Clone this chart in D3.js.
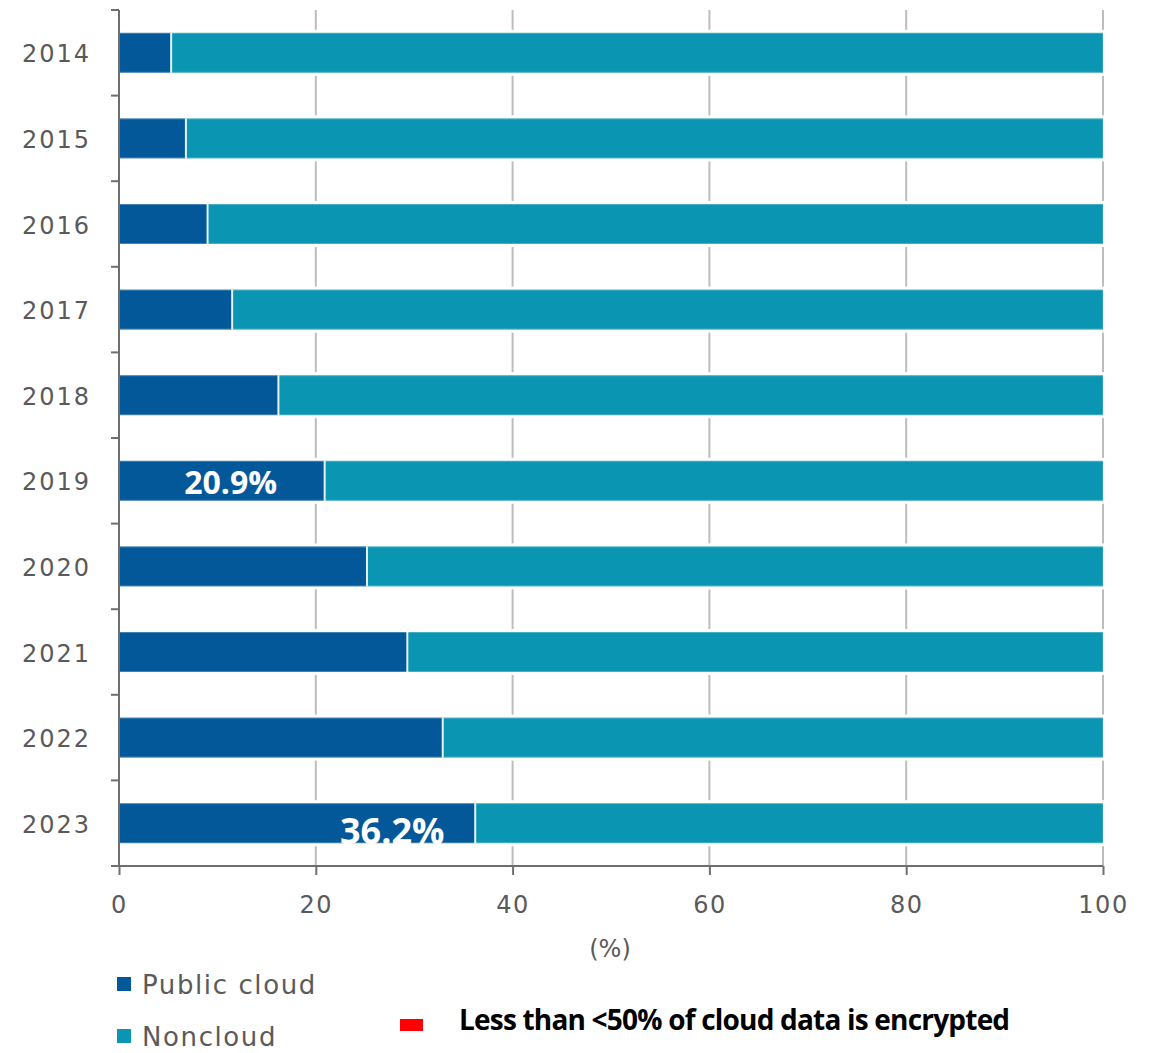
<!DOCTYPE html>
<html><head><meta charset="utf-8">
<script src="https://cdn.jsdelivr.net/npm/d3@7"></script>
<style>body{margin:0;background:#fff}</style>
</head><body>
<script>
const years = ["2014","2015","2016","2017","2018","2019","2020","2021","2022","2023"];
const publicCloud = [5.3, 6.8, 9.0, 11.5, 16.2, 20.9, 25.2, 29.3, 32.9, 36.2];
const noncloud = publicCloud.map(v => 100 - v);
const xTicks = [0, 20, 40, 60, 80, 100];
const seriesNames = ["Public cloud", "Noncloud"];
const colors = ["#03589a", "#0a95b3"];
const callouts = [{year:"2019", text:"20.9%"}, {year:"2023", text:"36.2%"}];
const note = "Less than <50% of cloud data is encrypted";

const W = 1156, H = 1053;
const svg = d3.select("body").append("svg").attr("width", W).attr("height", H);
const x = d3.scaleLinear().domain([0,100]).range([119,1103]);
const y = d3.scaleBand().domain(years).range([10,866]).paddingInner(0.533).paddingOuter(0.2665);
const step = y.step();
const axisCol = "#6e6e6e";
const txtCol = "#5a5a5a";

// gridlines
svg.append("g").selectAll("line").data(xTicks.filter(d=>d>0)).join("line")
  .attr("x1", d=>x(d)).attr("x2", d=>x(d)).attr("y1", 10).attr("y2", 866)
  .attr("stroke", "#bdbdbd").attr("stroke-width", 2);

// white halos behind bars
svg.append("g").selectAll("rect").data(years).join("rect")
  .attr("x", x(0)+1).attr("width", x(100)-x(0)+3)
  .attr("y", d=>y(d)-3).attr("height", y.bandwidth()+6).attr("fill", "#fff");

const gBars = svg.append("g");
years.forEach((yr,i)=>{
  gBars.append("rect").attr("x", x(0)).attr("width", x(publicCloud[i])-x(0))
    .attr("y", y(yr)).attr("height", y.bandwidth()).attr("fill", colors[0]);
  gBars.append("rect").attr("x", x(publicCloud[i])).attr("width", x(100)-x(publicCloud[i]))
    .attr("y", y(yr)).attr("height", y.bandwidth()).attr("fill", colors[1]);
  gBars.append("line").attr("x1", x(publicCloud[i])).attr("x2", x(publicCloud[i]))
    .attr("y1", y(yr)).attr("y2", y(yr)+y.bandwidth()).attr("stroke", "#e6f2f6").attr("stroke-width", 2);
  gBars.append("rect").attr("x", x(0)).attr("width", x(100)-x(0))
    .attr("y", y(yr)+0.5).attr("height", y.bandwidth()-1).attr("fill", "none")
    .attr("stroke", "rgba(255,255,255,0.25)").attr("stroke-width", 1);
});

// y axis
svg.append("line").attr("x1", 119).attr("x2", 119).attr("y1", 10).attr("y2", 866)
  .attr("stroke", axisCol).attr("stroke-width", 2);
svg.append("g").selectAll("line").data(d3.range(years.length)).join("line")
  .attr("x1", 111).attr("x2", 119).attr("y1", i=>10+i*step).attr("y2", i=>10+i*step)
  .attr("stroke", axisCol).attr("stroke-width", 2);
svg.append("g").selectAll("text").data(years).join("text")
  .attr("x", 91).attr("y", d=>y(d)+y.bandwidth()/2+9.5).attr("text-anchor","end")
  .attr("font-family","DejaVu Sans").attr("font-size",24).attr("letter-spacing",2)
  .attr("fill",txtCol).text(d=>d);

// x axis
const xAxis = d3.axisBottom(x).tickValues(xTicks).tickSize(9).tickPadding(21).tickSizeOuter(0);
const gx = svg.append("g").attr("transform","translate(0,866)").call(xAxis);
gx.select(".domain").attr("stroke", axisCol).attr("stroke-width",2).attr("d","M111,0H1103");
gx.selectAll(".tick line").attr("stroke", axisCol).attr("stroke-width",2);
gx.selectAll(".tick text").attr("font-family","DejaVu Sans").attr("font-size",24)
  .attr("letter-spacing",1.5).attr("fill",txtCol);
svg.append("text").attr("x", 610).attr("y", 957).attr("text-anchor","middle")
  .attr("font-family","DejaVu Sans").attr("font-size",24).attr("fill",txtCol).text("(%)");

// callouts
callouts.forEach(c=>{
  const i = years.indexOf(c.year);
  const big = c.year==="2023";
  const cx = big ? x(publicCloud[i]) - 83 : x(publicCloud[i]) - 94;
  svg.append("text").attr("x", cx).attr("y", big ? y(c.year)+y.bandwidth()+1 : y(c.year)+33)
    .attr("text-anchor","middle").attr("font-family","Open Sans").attr("font-weight","bold")
    .attr("font-size", big ? 36 : 32).attr("fill","#fff").text(c.text);
});

// legend
const leg = svg.append("g");
seriesNames.forEach((s,i)=>{
  const ly = 984 + i*52;
  leg.append("rect").attr("x",117).attr("y",ly-7).attr("width",14).attr("height",14).attr("fill",colors[i]);
  leg.append("text").attr("x",142).attr("y",ly+10).attr("font-family","DejaVu Sans").attr("font-size",26)
    .attr("letter-spacing",1.6).attr("fill",txtCol).text(s);
});
svg.append("rect").attr("x",400).attr("y",1019).attr("width",23).attr("height",12).attr("fill","#ff0000");
svg.append("text").attr("x",459).attr("y",1030).attr("font-family","Open Sans").attr("font-weight","bold")
  .attr("font-size",28).attr("letter-spacing",-0.8).attr("fill","#000").text(note);
</script>
</body></html>
